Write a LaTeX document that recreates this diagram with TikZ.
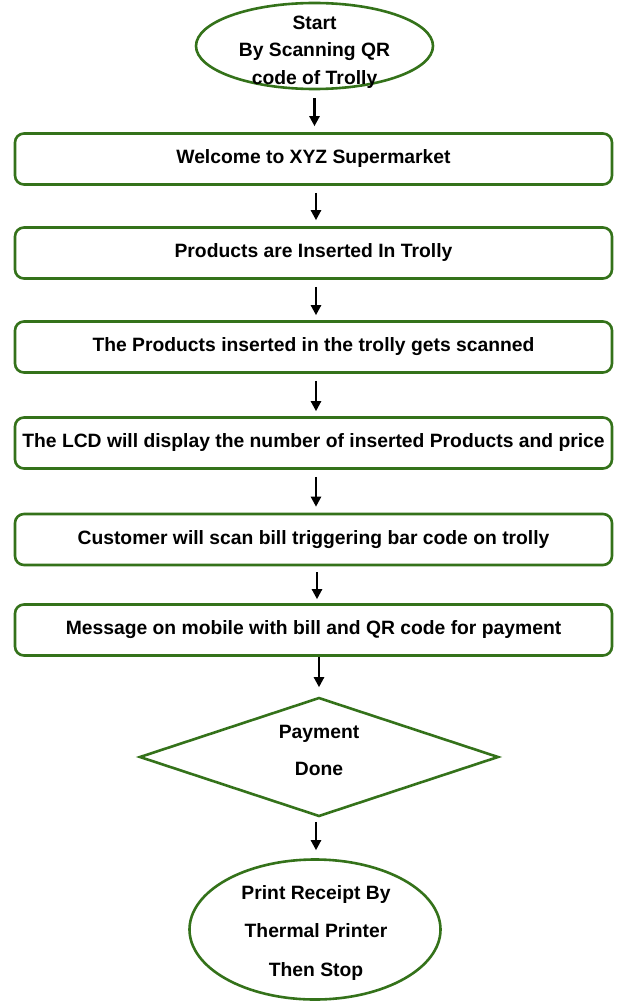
\documentclass[tikz,border=0pt]{standalone}
\usepackage{fontspec}
\setmainfont{Liberation Sans}
\usetikzlibrary{shapes.geometric,arrows.meta}
\definecolor{flowgreen}{HTML}{34721A}
% move the content of a node without changing its extent
\newcommand{\liftby}[2]{\raisebox{#1}[\height][\depth]{#2}}
\begin{document}
\begin{tikzpicture}[x=1pt,y=-1pt,
  every node/.style={font=\fontsize{19.3}{28}\selectfont\bfseries, align=center, inner sep=0pt},
  outline/.style={draw=flowgreen, line width=2.6pt, fill=white},
  stepbox/.style={outline, rounded corners=9pt, minimum width=597pt, minimum height=51pt},
  terminal/.style={outline, ellipse},
  decision/.style={outline, diamond, aspect=2.95, minimum width=359pt, minimum height=119pt},
  flowarrow/.style={draw=black, line width=2.3pt, -{Triangle[length=10pt,width=10pt]}}]
\useasboundingbox (0,0) rectangle (616,1003);

% start terminal and its caption
\node[terminal, minimum width=237pt, minimum height=86pt] (start) at (314.5,46) {};
\node[font=\fontsize{19.3}{27.5}\selectfont\bfseries] (starttext) at (314.5,52)
  {Start\\By Scanning QR\\code of Trolly};

\node[stepbox] (b1) at (313.5,159) {Welcome to XYZ Supermarket};
\node[stepbox] (b2) at (313.5,253) {Products are Inserted In Trolly};
\node[stepbox] (b3) at (313.5,347) {The Products inserted in the trolly gets scanned};
\node[stepbox] (b4) at (313.5,443) {The LCD will display the number of inserted Products and price};
\node[stepbox] (b5) at (313.5,539.5) {Customer will scan bill triggering bar code on trolly};
\node[stepbox] (b6) at (313.5,630) {Message on mobile with bill and QR code for payment};

\node[decision] (pay) at (319,757)
  {\liftby{5.5pt}{\begin{tabular}{@{}c@{}}Payment\\[9pt]Done\end{tabular}}};

% end terminal and its caption
\node[terminal, minimum width=251pt, minimum height=140pt] (stop) at (315,929.5) {};
\node[font=\fontsize{19.3}{38.5}\selectfont\bfseries] (stoptext) at (316,932.5)
  {Print Receipt By\\Thermal Printer\\Then Stop};

\draw[flowarrow, shorten <=8pt, shorten >=6pt] (start.south) -- (b1.north -| start.south);
\draw[flowarrow, shorten <=7pt, shorten >=6pt] ([xshift=2.5pt]b1.south) -- ([xshift=2.5pt]b2.north);
\draw[flowarrow, shorten <=7pt, shorten >=5pt] ([xshift=2.5pt]b2.south) -- ([xshift=2.5pt]b3.north);
\draw[flowarrow, shorten <=7pt, shorten >=5pt] ([xshift=2.5pt]b3.south) -- ([xshift=2.5pt]b4.north);
\draw[flowarrow, shorten <=7pt, shorten >=6pt] ([xshift=2.5pt]b4.south) -- ([xshift=2.5pt]b5.north);
\draw[flowarrow, shorten <=6pt, shorten >=4pt] ([xshift=3.5pt]b5.south) -- ([xshift=3.5pt]b6.north);
\draw[flowarrow, shorten <=0pt, shorten >=9pt] (b6.south -| pay.north) -- (pay.north);
\draw[flowarrow, shorten <=4pt, shorten >=8pt] ([xshift=-3pt]pay.south) -- ([xshift=-3pt]pay.south |- stop.north);
\end{tikzpicture}
\end{document}
